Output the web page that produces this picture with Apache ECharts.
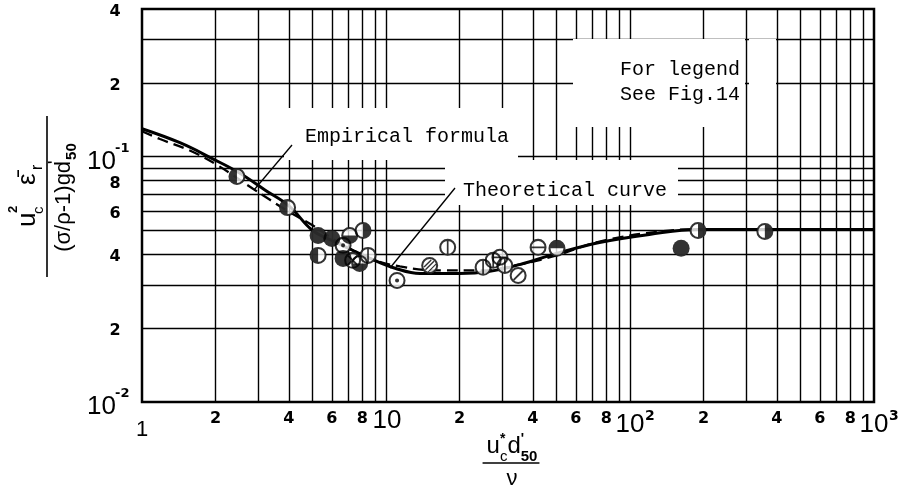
<!DOCTYPE html>
<html><head><meta charset="utf-8">
<script src="https://cdn.jsdelivr.net/npm/echarts@6/dist/echarts.min.js"></script>
<style>html,body{margin:0;padding:0;background:#fff}#c{width:904px;height:493px}</style>
</head><body><div id="c"></div>
<script>
// ---- grid lines of the log paper ----
const xGridValues = [2,3,4,5,6,7,8,9,10,20,30,40,50,60,70,80,90,100,200,300,400,500,600,700,800,900];
const yGridValues = [0.02,0.03,0.04,0.05,0.06,0.07,0.08,0.09,0.1,0.2,0.3];
// ---- tick labels ----
const xTickValues = [1,2,4,6,8,10,20,40,60,80,100,200,400,600,800,1000];
const xTickLabels = ['1','2','4','6','8','10','2','4','6','8','10^2','2','4','6','8','10^3'];
const yTickValues = [0.4,0.2,0.1,0.08,0.06,0.04,0.02,0.01];
const yTickLabels = ['4','2','10^-1','8','6','4','2','10^-2'];
// ---- theoretical curve (solid) ----
const theoX = [1,1.43,1.95,2.5,3.2,4.0,5.0,6.0,7.5,8.6,10.9,13.8,20,26.6,35.5,50,75,120,190,400,1000];
const theoY = [0.130,0.114,0.098,0.086,0.073,0.063,0.050,0.0456,0.041,0.0385,0.0351,0.0334,0.0334,0.0341,0.0364,0.0403,0.0447,0.0482,0.0505,0.0505,0.0505];
// ---- empirical formula (dashed) ----
const empX = [1,1.185,1.57,2.05,2.85,3.93,5.02,6.5,8.6,11.4,16.6,24.3,35.5,50,75,133,190,1000];
const empY = [0.127,0.118,0.106,0.092,0.074,0.0603,0.0524,0.0443,0.0385,0.0357,0.0344,0.0344,0.0364,0.0396,0.0451,0.0496,0.0505,0.0505];
// ---- measured points ----
const ptX = [2.45,3.95,5.27,5.27,6.0,6.67,7.1,8.05,6.67,7.3,7.8,8.44,11.1,15.1,17.9,25,27.5,29.3,30.7,34.8,42,50.2,162,190,357];
const ptY = [0.083,0.062,0.0477,0.0396,0.0464,0.0435,0.0477,0.050,0.0385,0.0378,0.0367,0.0396,0.0313,0.036,0.0427,0.0354,0.0378,0.0389,0.036,0.0328,0.0427,0.0423,0.0423,0.050,0.0496];
const ptKind = ['halfLeft','halfLeft','full','halfLeft','full','dot','halfBottom','halfRight','full','cross','halfBottom','vline','dot','hatch','vline','vline','vline','hline','vline','slash','hline','halfTop','full','halfRight','halfRight'];

const RING = 'M0,50A50,50,0,1,1,100,50A50,50,0,1,1,0,50Z M12,50A38,38,0,1,0,88,50A38,38,0,1,0,12,50Z ';
const SYM = {
  halfLeft: RING + 'M50,12A38,38,0,0,0,50,88Z',
  halfRight: RING + 'M50,12A38,38,0,0,1,50,88Z',
  halfTop: RING + 'M12,50A38,38,0,0,1,88,50Z',
  halfBottom: RING + 'M12,50A38,38,0,0,0,88,50Z',
  full: 'M0,50A50,50,0,1,1,100,50A50,50,0,1,1,0,50Z',
  dot: RING + 'M38,50A12,12,0,1,1,62,50A12,12,0,1,1,38,50Z',
  vline: RING + 'M45,12L55,12L55,88L45,88Z',
  hline: RING + 'M12,45L88,45L88,55L12,55Z',
  slash: RING + 'M20,72L72,20L80,28L28,80Z',
  hatch: RING + 'M14,56L56,14L62,20L20,62Z M22,72L72,22L78,28L28,78Z M38,86L86,38L90,44L44,90Z',
  cross: RING + 'M20,72L72,20L80,28L28,80Z M28,20L80,72L72,80L20,28Z'
};
const SYMSIZE = 17;

const chart = echarts.init(document.getElementById('c'), null, {renderer:'canvas'});
const zip = (a,b) => a.map((v,i)=>[v,b[i]]);

const series = [];
series.push({
  type:'line', data:[], silent:true, z:1,
  markLine:{ silent:true, z:1, symbol:['none','none'], animation:false,
    label:{show:false},
    lineStyle:{color:'#000', width:1.4, type:'solid'},
    emphasis:{disabled:true},
    data: xGridValues.map(v=>({xAxis:v})).concat(yGridValues.map(v=>({yAxis:v})))
  }
});
series.push({type:'line', name:'Empirical formula', data:zip(empX,empY), smooth:0.4, showSymbol:false, z:5,
  lineStyle:{color:'#000', width:2.3, type:[11,6]}});
series.push({type:'line', name:'Theoretical curve', data:zip(theoX,theoY), smooth:0.4, showSymbol:false, z:5,
  lineStyle:{color:'#000', width:3}});
series.push({type:'scatter', data:zip(ptX,ptY), symbol:'circle', symbolSize:SYMSIZE-1, z:6,
  itemStyle:{color:'#fff'}});
Object.keys(SYM).forEach(k=>{
  const d = [];
  ptKind.forEach((t,i)=>{ if(t===k) d.push([ptX[i],ptY[i]]); });
  if(d.length) series.push({type:'scatter', data:d, symbol:'path://'+SYM[k], symbolSize:SYMSIZE, z:7,
    itemStyle:{color:'#000'}});
});

chart.setOption({
  animation:false,
  backgroundColor:'#fff',
  grid:{left:142,right:30,top:9,bottom:91,show:true,borderColor:'#000',borderWidth:2.5},
  xAxis:{type:'log',logBase:10,min:1,max:1000,axisLine:{show:false},axisTick:{show:false},axisLabel:{show:false},splitLine:{show:false}},
  yAxis:{type:'log',logBase:10,min:0.01,max:0.4,axisLine:{show:false},axisTick:{show:false},axisLabel:{show:false},splitLine:{show:false}},
  series: series
});

// ---------- annotations ----------
const cv = document.createElement('canvas').getContext('2d');
function tw(t, font){ cv.font = font; return cv.measureText(t).width; }
const G = [];
const SANS = '"Liberation Sans", Arial, sans-serif';
const BOLD = '"DejaVu Sans", sans-serif';
const MONO = '"Liberation Mono", monospace';
function txt(x,y,text,opt){
  opt = opt||{};
  return {type:'text', x:x, y:y, z:20, silent:true, style:{text:text, fill:'#000',
    font:(opt.weight||'normal')+' '+(opt.size||16)+'px '+(opt.family||SANS),
    align:opt.align||'center', verticalAlign:opt.va||'middle'}};
}
// blank boxes on the paper behind labels
[[284,108,234,52],[445,160,233,45],[573,39,172,88],[749,39,27,88]].forEach(b=>{
  G.push({type:'rect', z:3, silent:true, shape:{x:b[0],y:b[1],width:b[2],height:b[3]}, style:{fill:'#fff'}});
});
// x tick labels
const y0px = chart.convertToPixel({yAxisIndex:0}, 0.01);
xTickValues.forEach((v,i)=>{
  const px = chart.convertToPixel({xAxisIndex:0}, v);
  const t = xTickLabels[i];
  const m = t.match(/^10\^(.+)$/);
  if (m) {
    G.push(txt(px, y0px+23, '10', {size:26}));
    G.push(txt(px+15, y0px+14, m[1], {size:14, weight:'bold', align:'left', family:BOLD}));
  } else if (t==='10') {
    G.push(txt(px+1, y0px+19, '10', {size:26}));
  } else if (t==='1') {
    G.push(txt(px, y0px+28, '1', {size:22}));
  } else {
    G.push(txt(px, y0px+17, t, {size:16, weight:'bold', family:BOLD}));
  }
});
// y tick labels
const x0px = chart.convertToPixel({xAxisIndex:0}, 1);
yTickValues.forEach((v,i)=>{
  const py = chart.convertToPixel({yAxisIndex:0}, v);
  const t = yTickLabels[i];
  const m = t.match(/^10\^(.+)$/);
  if (m) {
    G.push(txt(x0px-26, py+5, '10', {size:26, align:'right'}));
    G.push(txt(x0px-27, py-8, m[1], {size:13, weight:'bold', align:'left', family:BOLD}));
  } else {
    G.push(txt(x0px-27, py+3, t, {size:16, weight:'bold', family:BOLD}));
  }
});
// curve labels and leaders
G.push(txt(305,137,'Empirical formula',{size:20,family:MONO,align:'left'}));
G.push(txt(463,191,'Theoretical curve',{size:20,family:MONO,align:'left'}));
G.push(txt(620,70,'For legend',{size:20,family:MONO,align:'left'}));
G.push(txt(620,95,'See Fig.14',{size:20,family:MONO,align:'left'}));
G.push({type:'line', z:8, silent:true, shape:{x1:292,y1:145,x2:254,y2:190}, style:{stroke:'#000',lineWidth:1.3}});
G.push({type:'line', z:8, silent:true, shape:{x1:455,y1:188,x2:390,y2:268}, style:{stroke:'#000',lineWidth:1.3}});
// x axis title
(function(){
  const cx = 512;
  const parts = [['u',24,0,'normal'],['*',14,-12,'bold'],['c',15,6,'normal'],['d',24,0,'normal'],["'",14,-12,'bold'],['50',15,6,'bold']];
  const ws = parts.map(p=>tw(p[0], p[3]+' '+p[1]+'px '+SANS));
  const adv = [ws[0],0,ws[2],ws[3],0,ws[5]];
  const w = adv.reduce((a,b)=>a+b,0);
  let x = cx - w/2;
  parts.forEach((p,i)=>{
    G.push({type:'text', z:20, silent:true, x:x, y:458+p[2], style:{text:p[0], fill:'#000', font:p[3]+' '+p[1]+'px '+SANS, align:'left', verticalAlign:'bottom'}});
    x += adv[i];
  });
  G.push({type:'line', z:20, silent:true, shape:{x1:cx-w/2-4,y1:463,x2:cx+w/2+2,y2:463}, style:{stroke:'#000',lineWidth:1.6}});
  G.push(txt(cx, 479, 'ν', {size:22}));
})();
// y axis title (rotated fraction)
(function(){
  const ch = [];
  ch.push({type:'line', shape:{x1:-80,y1:0,x2:81,y2:0}, style:{stroke:'#000',lineWidth:1.6}});
  const num = [['u',26,-30,-6,'normal'],['c',15,-17,-1,'normal'],['2',13,-16,-27,'bold'],['ε\u0304',26,12,-6,'normal'],['r',16,27,-1,'normal']];
  num.forEach(p=>ch.push({type:'text', x:p[2], y:p[3], style:{text:p[0], fill:'#000', font:p[4]+' '+p[1]+'px '+SANS, align:'left', verticalAlign:'bottom'}}));
  const den1 = '(σ/ρ-1)gd';
  const f1 = 'normal 22px '+SANS;
  const w1 = tw(den1, f1);
  const f2 = 'bold 15px '+SANS;
  const w2 = tw('50', f2);
  const total = w1 + w2 + 2;
  let x = -total/2;
  ch.push({type:'text', x:x, y:28, style:{text:den1, fill:'#000', font:f1, align:'left', verticalAlign:'bottom'}});
  ch.push({type:'text', x:x+w1-3, y:14, style:{text:"'", fill:'#000', font:'bold 14px '+SANS, align:'left', verticalAlign:'bottom'}});
  ch.push({type:'text', x:x+w1+1, y:32, style:{text:'50', fill:'#000', font:f2, align:'left', verticalAlign:'bottom'}});
  G.push({type:'group', x:47, y:197, rotation:Math.PI/2, z:20, silent:true, children:ch});
})();
chart.setOption({graphic:{elements:G}});
</script></body></html>
